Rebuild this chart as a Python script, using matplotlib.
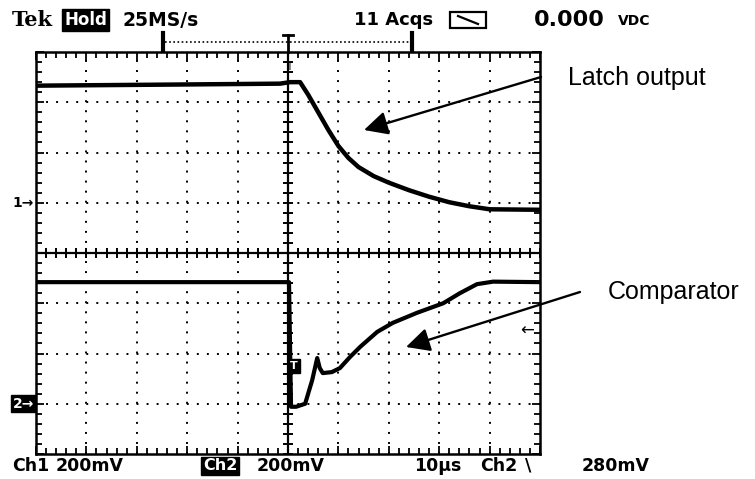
import numpy as np
import matplotlib.pyplot as plt
from matplotlib.patches import Rectangle

# screen is 10 x 8 divisions, y measured from the centre line
latch_x = [0, 2.5, 4.84, 5.04, 5.24, 5.4, 5.6, 5.8, 6.0, 6.2, 6.4, 6.7, 7.0, 7.4, 7.8, 8.2, 8.6, 9.0, 10]
latch_y = [3.33, 3.35, 3.37, 3.40, 3.40, 3.15, 2.80, 2.45, 2.13, 1.89, 1.71, 1.53, 1.40, 1.25, 1.12, 1.01, 0.93, 0.87, 0.86]

comp_x = [0, 5.02, 5.06, 5.16, 5.34, 5.48, 5.58, 5.63, 5.69, 5.87, 6.03, 6.23, 6.43,
          6.77, 7.08, 7.56, 8.08, 8.41, 8.75, 9.07, 10]
comp_y = [-0.58, -0.58, -3.06, -3.06, -3.0, -2.53, -2.09, -2.29, -2.39, -2.37, -2.29, -2.07, -1.87,
          -1.57, -1.39, -1.19, -1.0, -0.80, -0.62, -0.57, -0.58]

top_labels = ['25MS/s', '11 Acqs', '0.000', 'VDC']
bottom_labels = ['Ch1', '200mV', 'Ch2', '200mV', '10\u00b5s', 'Ch2', '\\', '280mV']

W, H = 755, 479
fig = plt.figure(figsize=(W / 100, H / 100), dpi=100)
ax = fig.add_axes([36 / W, 1 - 454 / H, 504 / W, 402 / H])
ax.set_xlim(0, 10)
ax.set_ylim(-4, 4)


def X(px):
    return (px - 36) / 50.4


def Y(py):
    return (253 - py) / 50.25


# graticule
for s in ax.spines.values():
    s.set_linewidth(1.8)
ax.set_xticks(np.arange(0, 11, 1))
ax.set_yticks(np.arange(-4, 5, 1))
ax.set_xticks(np.arange(0, 10.01, 0.2), minor=True)
ax.set_yticks(np.arange(-4, 4.01, 0.2), minor=True)
ax.tick_params(which='both', direction='in', top=True, right=True,
               labelbottom=False, labelleft=False, width=1.3)
ax.tick_params(which='major', length=6)
ax.tick_params(which='minor', length=4)

for k in range(1, 10):
    if k != 5:
        ax.axvline(k, color='black', lw=1.4, ls=(0, (1, 4.17)))
for k in range(-3, 4):
    if k != 0:
        ax.axhline(k, color='black', lw=1.4, ls=(0, (1, 4.17)))
ax.axvline(5, color='black', lw=1.6)
ax.axhline(0, color='black', lw=1.6)
ax.plot(np.arange(0, 10.01, 0.2), np.zeros(51), '|', color='black', ms=7, mew=1.4)
ax.plot(np.full(41, 5.0), np.arange(-4, 4.01, 0.2), '_', color='black', ms=7, mew=1.4)

# traces
ax.plot(latch_x, latch_y, color='black', lw=3.2, solid_joinstyle='round')
ax.plot(comp_x, comp_y, color='black', lw=3.0, solid_joinstyle='round')

# trigger marker on ch2 and level arrow
ax.text(X(294), Y(366), 'T', color='white', fontsize=8, fontweight='bold', ha='center', va='center',
        bbox=dict(boxstyle='square,pad=0.15', fc='black', ec='black'))
ax.text(X(527), Y(331), '\u2190', fontsize=12, ha='center', va='center')
ax.text(X(289), Y(67), 'T', fontsize=7, ha='center', va='center')

# channel ground markers
ax.text(X(34), 1.0, '1\u2192', fontsize=10, fontweight='bold', ha='right', va='center', clip_on=False)
ax.text(X(34), -3.0, '2\u2192', fontsize=10, fontweight='bold', ha='right', va='center', color='white',
        clip_on=False, bbox=dict(boxstyle='square,pad=0.1', fc='black', ec='black'))

# record bar above the screen
ax.plot([X(165), X(410)], [Y(42), Y(42)], color='black', lw=1.2, ls=(0, (1, 1.5)), clip_on=False)
ax.plot([X(163), X(163)], [Y(33), Y(50)], color='black', lw=3, clip_on=False)
ax.plot([X(412), X(412)], [Y(33), Y(50)], color='black', lw=3, clip_on=False)
ax.plot([X(288), X(288)], [Y(35), Y(52)], color='black', lw=2, clip_on=False)
ax.plot([X(283), X(293)], [Y(35), Y(35)], color='black', lw=2, clip_on=False)

# annotations
ax.annotate('', xy=(X(364), Y(130)), xytext=(X(541), Y(77)), annotation_clip=False,
            arrowprops=dict(arrowstyle='-|>', color='black', lw=1.7, mutation_scale=36,
                            shrinkA=0, shrinkB=0))
ax.annotate('', xy=(X(406), Y(347)), xytext=(X(580), Y(292)), annotation_clip=False,
            arrowprops=dict(arrowstyle='-|>', color='black', lw=1.7, mutation_scale=36,
                            shrinkA=0, shrinkB=0))
fig.text(568 / W, 1 - 85 / H, 'Latch output', fontsize=18, family='Liberation Sans', va='baseline')
fig.text(608 / W, 1 - 299 / H, 'Comparator', fontsize=18, family='Liberation Sans', va='baseline')

# scope readouts
mono = dict(family='DejaVu Sans', fontweight='bold', va='center')
fig.text(12 / W, 1 - 20 / H, 'Tek', family='DejaVu Serif', fontweight='bold', fontsize=15, va='center')
fig.text(64 / W, 1 - 20 / H, 'Hold', color='white', fontsize=12, **mono,
         bbox=dict(boxstyle='square,pad=0.12', fc='black', ec='black'))
fig.text(123 / W, 1 - 20 / H, top_labels[0], fontsize=13.5, **mono)
fig.text(354 / W, 1 - 20 / H, top_labels[1], fontsize=13, **mono)
fig.add_artist(Rectangle((450 / W, 1 - 28 / H), 36 / W, 16 / H, transform=fig.transFigure,
                         fill=False, lw=1.6, ec='black'))
fig.add_artist(plt.Line2D([458 / W, 478 / W], [1 - 16 / H, 1 - 24 / H], transform=fig.transFigure,
                          color='black', lw=1.6))
fig.text(534 / W, 1 - 20 / H, top_labels[2], fontsize=16, **mono)
fig.text(618 / W, 1 - 21 / H, top_labels[3], fontsize=10, **mono)

yb = 1 - 466 / H
fig.text(12 / W, yb, bottom_labels[0], fontsize=12.5, **mono)
fig.text(56 / W, yb, bottom_labels[1], fontsize=12.5, **mono)
fig.text(203 / W, yb, bottom_labels[2], fontsize=11.5, color='white', **mono,
         bbox=dict(boxstyle='square,pad=0.12', fc='black', ec='black'))
fig.text(257 / W, yb, bottom_labels[3], fontsize=12.5, **mono)
fig.text(414 / W, yb, bottom_labels[4], fontsize=12.5, **mono)
fig.text(480 / W, yb, bottom_labels[5], fontsize=12.5, **mono)
fig.text(525 / W, yb, bottom_labels[6], fontsize=12.5, **mono)
fig.text(582 / W, yb, bottom_labels[7], fontsize=12.5, **mono)

fig.savefig('out.png', dpi=100)
